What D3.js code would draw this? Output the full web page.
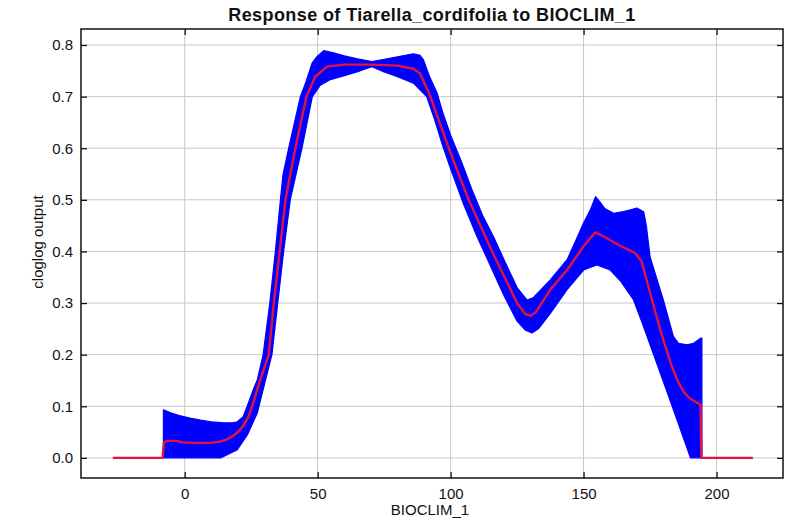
<!DOCTYPE html>
<html>
<head>
<meta charset="utf-8">
<script src="https://cdn.jsdelivr.net/npm/d3@7"></script>
<style>
  body { margin: 0; background: #fff; }
  text { font-family: "Liberation Sans", Arial, Helvetica, sans-serif; }
</style>
</head>
<body>
<div id="chart"></div>
<script>
// Response curve data: [BIOCLIM_1, cloglog output]
let meanCurve = [
  [-27, 0], [-8.3, 0], [-7.8, 0.030], [-6.5, 0.033], [-3, 0.033], [-1, 0.030],
  [4, 0.029], [9, 0.029], [13, 0.031], [16, 0.036], [18, 0.042], [20, 0.050],
  [22, 0.062], [24, 0.080], [26, 0.110], [28, 0.145], [30, 0.175], [31.6, 0.200],
  [33.5, 0.300], [35.7, 0.400], [37.9, 0.500], [41.6, 0.600], [45.8, 0.700],
  [49, 0.738], [53.5, 0.758], [60, 0.762], [70, 0.762], [80, 0.760], [86, 0.754],
  [88.5, 0.745], [90, 0.728], [92.4, 0.700], [99.3, 0.600], [106.8, 0.500],
  [115.6, 0.400], [125, 0.300], [128, 0.279], [130, 0.275], [132, 0.282],
  [137.5, 0.326], [143.8, 0.364], [150, 0.410], [154.4, 0.437], [158, 0.428],
  [163, 0.413], [169.4, 0.397], [171.9, 0.380], [175, 0.320], [179, 0.245],
  [183.2, 0.177], [185.5, 0.148], [187.6, 0.128], [190, 0.115], [194, 0.103],
  [194.3, 0], [213.7, 0]
];

// upper edge of the blue band
let upperBand = [
  [-8, 0.093], [-5, 0.087], [-2, 0.082], [2, 0.077], [6, 0.073], [10, 0.070],
  [14.6, 0.068], [18, 0.068], [19.8, 0.070], [22, 0.080], [23.5, 0.100],
  [26, 0.135], [27.3, 0.151], [29.5, 0.200], [32, 0.300], [34.1, 0.400],
  [36, 0.500], [37, 0.550], [39.1, 0.600], [43.5, 0.700], [45.5, 0.727],
  [47.9, 0.765], [49.8, 0.778], [52.3, 0.789], [56, 0.785], [60, 0.779],
  [65, 0.773], [70.4, 0.768], [75, 0.772], [80, 0.777], [86, 0.783],
  [88.5, 0.780], [89.8, 0.771], [92, 0.740], [94.9, 0.707], [97, 0.670],
  [100, 0.625], [104, 0.575], [108, 0.520], [112, 0.470], [116, 0.430],
  [120, 0.385], [125, 0.330], [128.7, 0.306], [131, 0.310], [137.5, 0.345],
  [143.8, 0.384], [147, 0.420], [150, 0.455], [152.5, 0.480], [154.5, 0.506],
  [156, 0.497], [158, 0.483], [161.3, 0.474], [165, 0.477], [168, 0.481],
  [170, 0.484], [172.6, 0.477], [173.6, 0.450], [175, 0.390], [178.8, 0.326],
  [180, 0.306], [183.8, 0.235], [185.7, 0.222], [188.9, 0.219], [191.4, 0.222],
  [194, 0.232], [194.5, 0.232]
];

// lower edge of the blue band
let lowerBand = [
  [-8, 0], [13.5, 0], [16, 0.006], [19.8, 0.016], [23.6, 0.045], [27.3, 0.087],
  [32.8, 0.200], [35, 0.300], [37.2, 0.400], [39.7, 0.500], [44.1, 0.600],
  [48, 0.700], [51, 0.722], [54.8, 0.733], [61, 0.742], [66, 0.750],
  [70.4, 0.758], [75, 0.748], [79.8, 0.739], [86, 0.726], [91, 0.700],
  [94, 0.655], [97, 0.605], [100, 0.560], [105, 0.490], [110, 0.428],
  [115, 0.372], [120, 0.315], [125, 0.265], [128, 0.248], [130.6, 0.242],
  [133, 0.250], [137.5, 0.280], [143.8, 0.326], [150, 0.364], [155, 0.374],
  [160, 0.364], [164, 0.342], [168.8, 0.306], [172, 0.262], [176, 0.205],
  [180, 0.148], [184, 0.090], [188, 0.032], [190.2, 0], [194.5, 0]
];

let xTicks = [0, 50, 100, 150, 200];
let yTicks = [0, 0.1, 0.2, 0.3, 0.4, 0.5, 0.6, 0.7, 0.8];

let titleText = "Response of Tiarella_cordifolia to BIOCLIM_1";
let xLabel = "BIOCLIM_1";
let yLabel = "cloglog output";

// layout
let width = 800, height = 520;
let plotLeft = 81, plotRight = 783, plotTop = 29, plotBottom = 478;

let svg = d3.select("#chart")
  .append("svg")
  .attr("width", width)
  .attr("height", height);

let xScale = d3.scaleLinear().domain([-39, 225]).range([plotLeft, plotRight]);
let yScale = d3.scaleLinear().domain([-0.039, 0.831]).range([plotBottom, plotTop]);

// grid lines
svg.append("g").attr("class", "xgrid")
  .selectAll("line")
  .data(xTicks)
  .join("line")
  .attr("x1", d => xScale(d)).attr("x2", d => xScale(d))
  .attr("y1", plotTop).attr("y2", plotBottom)
  .attr("stroke", "#c8c8c8").attr("stroke-width", 1);

svg.append("g").attr("class", "ygrid")
  .selectAll("line")
  .data(yTicks)
  .join("line")
  .attr("x1", plotLeft).attr("x2", plotRight)
  .attr("y1", d => yScale(d)).attr("y2", d => yScale(d))
  .attr("stroke", "#c8c8c8").attr("stroke-width", 1);

// blue band: upper edge forward, lower edge back
let curveLine = d3.line()
  .x(d => xScale(d[0]))
  .y(d => yScale(d[1]));

svg.append("path")
  .attr("class", "band")
  .attr("d", curveLine(upperBand.concat(lowerBand.slice().reverse())) + "Z")
  .attr("fill", "#0000ff")
  .attr("stroke", "#0000ff")
  .attr("stroke-width", 1.2)
  .attr("stroke-linejoin", "round");

// mean response
svg.append("path")
  .attr("class", "mean")
  .datum(meanCurve)
  .attr("d", curveLine)
  .attr("fill", "none")
  .attr("stroke", "#e3123e")
  .attr("stroke-width", 2.4)
  .attr("stroke-linejoin", "round");

// axes with inward ticks on all sides
let fmtY = d3.format(".1f");

svg.append("g")
  .attr("transform", `translate(0, ${plotBottom})`)
  .call(d3.axisBottom(xScale).tickValues(xTicks).tickSizeInner(-6).tickSizeOuter(0).tickPadding(10));

svg.append("g")
  .attr("transform", `translate(0, ${plotTop})`)
  .call(d3.axisTop(xScale).tickValues(xTicks).tickSizeInner(-6).tickSizeOuter(0).tickFormat(""));

svg.append("g")
  .attr("transform", `translate(${plotLeft}, 0)`)
  .call(d3.axisLeft(yScale).tickValues(yTicks).tickSizeInner(-6).tickSizeOuter(0).tickPadding(8).tickFormat(fmtY));

svg.append("g")
  .attr("transform", `translate(${plotRight}, 0)`)
  .call(d3.axisRight(yScale).tickValues(yTicks).tickSizeInner(-6).tickSizeOuter(0).tickFormat(""));

svg.selectAll(".domain").remove();
svg.selectAll(".tick line").attr("stroke", "#111").attr("stroke-width", 1.3);
svg.selectAll(".tick text")
  .attr("fill", "#111")
  .style("font-size", "15px")
  .style("font-family", "'Liberation Sans', Arial, sans-serif");

// frame
svg.append("rect")
  .attr("x", plotLeft).attr("y", plotTop)
  .attr("width", plotRight - plotLeft).attr("height", plotBottom - plotTop)
  .attr("fill", "none")
  .attr("stroke", "#111")
  .attr("stroke-width", 1.5);

// labels
svg.append("text")
  .attr("x", (plotLeft + plotRight) / 2)
  .attr("y", 21)
  .attr("text-anchor", "middle")
  .style("font-size", "18px")
  .style("font-weight", "bold")
  .style("letter-spacing", "0.4px")
  .attr("fill", "#111")
  .text(titleText);

svg.append("text")
  .attr("x", (plotLeft + plotRight) / 2 - 2)
  .attr("y", 515)
  .attr("text-anchor", "middle")
  .style("font-size", "15px")
  .attr("fill", "#111")
  .text(xLabel);

svg.append("text")
  .attr("transform", `translate(43, 242) rotate(-90)`)
  .attr("text-anchor", "middle")
  .style("font-size", "15px")
  .attr("fill", "#111")
  .text(yLabel);
</script>
</body>
</html>
